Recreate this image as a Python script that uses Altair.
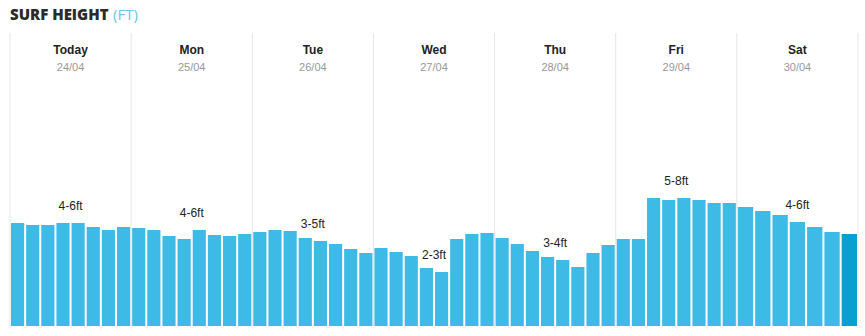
import altair as alt
import pandas as pd

days = ["Today", "Mon", "Tue", "Wed", "Thu", "Fri", "Sat"]
dates = ["24/04", "25/04", "26/04", "27/04", "28/04", "29/04", "30/04"]
ranges = ["4-6ft", "4-6ft", "3-5ft", "2-3ft", "3-4ft", "5-8ft", "4-6ft"]
heights = [
    [5.15, 5.05, 5.05, 5.15, 5.15, 4.95, 4.8, 4.95],
    [4.9, 4.8, 4.5, 4.35, 4.8, 4.55, 4.5, 4.6],
    [4.7, 4.8, 4.75, 4.4, 4.25, 4.1, 3.85, 3.65],
    [3.9, 3.7, 3.5, 2.9, 2.7, 4.35, 4.6, 4.65],
    [4.4, 4.1, 3.75, 3.45, 3.3, 2.95, 3.65, 4.05],
    [4.35, 4.35, 6.4, 6.3, 6.4, 6.3, 6.15, 6.15],
    [5.95, 5.75, 5.55, 5.2, 4.95, 4.7, 4.6],
]

rows = []
for d, vals in enumerate(heights):
    n = len(vals)
    for i, v in enumerate(vals):
        last = (d == len(heights) - 1 and i == n - 1)
        rows.append({"x0": d + i / n, "x1": d + (i + 1) / n, "h": v,
                     "cur": "now" if last else "fc"})
bars_df = pd.DataFrame(rows)

lab_rows = []
for d, vals in enumerate(heights):
    mid = len(vals) // 2
    lab_rows.append({"xc": d + 0.5, "h": vals[mid], "label": ranges[d],
                     "day": days[d], "date": dates[d]})
lab_df = pd.DataFrame(lab_rows)
grid_df = pd.DataFrame({"g": list(range(len(days) + 1))})

xs = alt.Scale(domain=[0, 7], range=[0, 848], nice=False, zero=False)
ys = alt.Scale(domain=[0, 14.65], nice=False)
FONT = "Liberation Sans"

grid = alt.Chart(grid_df).mark_rule(color="#e6e6e6", strokeWidth=1).encode(
    x=alt.X("g:Q", scale=xs, axis=None))

bars = alt.Chart(bars_df).mark_bar(xOffset=1, x2Offset=-1).encode(
    x=alt.X("x0:Q", scale=xs, axis=None),
    x2="x1:Q",
    y=alt.Y("h:Q", scale=ys, axis=None),
    y2=alt.datum(0),
    color=alt.Color("cur:N", scale=alt.Scale(domain=["fc", "now"], range=["#3ebae7", "#07a0d0"]), legend=None),
)

labels = alt.Chart(lab_df).mark_text(font=FONT, fontSize=12, color="#222222", dy=-17, baseline="middle").encode(
    x=alt.X("xc:Q", scale=xs), y=alt.Y("h:Q", scale=ys), text="label:N")

daytxt = alt.Chart(lab_df).mark_text(font=FONT, fontSize=12, fontWeight="bold", color="#222222", baseline="middle").encode(
    x=alt.X("xc:Q", scale=xs), y=alt.value(17), text="day:N")

datetxt = alt.Chart(lab_df).mark_text(font=FONT, fontSize=11, color="#999999", baseline="middle").encode(
    x=alt.X("xc:Q", scale=xs), y=alt.value(35), text="date:N")

title1 = alt.Chart(pd.DataFrame({"t": ["SURF HEIGHT"]})).mark_text(
    font="Open Sans", fontSize=15, fontWeight=800, color="#2b2b2b", align="left", baseline="middle").encode(
    x=alt.value(0), y=alt.value(-18), text="t:N")
title2 = alt.Chart(pd.DataFrame({"t": ["(FT)"]})).mark_text(
    font="Open Sans", fontSize=15, color="#6cc5ee", align="left", baseline="middle").encode(
    x=alt.value(103), y=alt.value(-18), text="t:N")

chart = alt.layer(grid, bars, labels, daytxt, datetxt, title1, title2).properties(
    width=848, height=293,
    padding={"left": 10, "top": 33, "right": 7, "bottom": 10},
    autosize="none",
).configure_view(stroke=None).resolve_scale(color="independent")

chart.save("out.html", embed_options={"renderer": "svg", "actions": False})
